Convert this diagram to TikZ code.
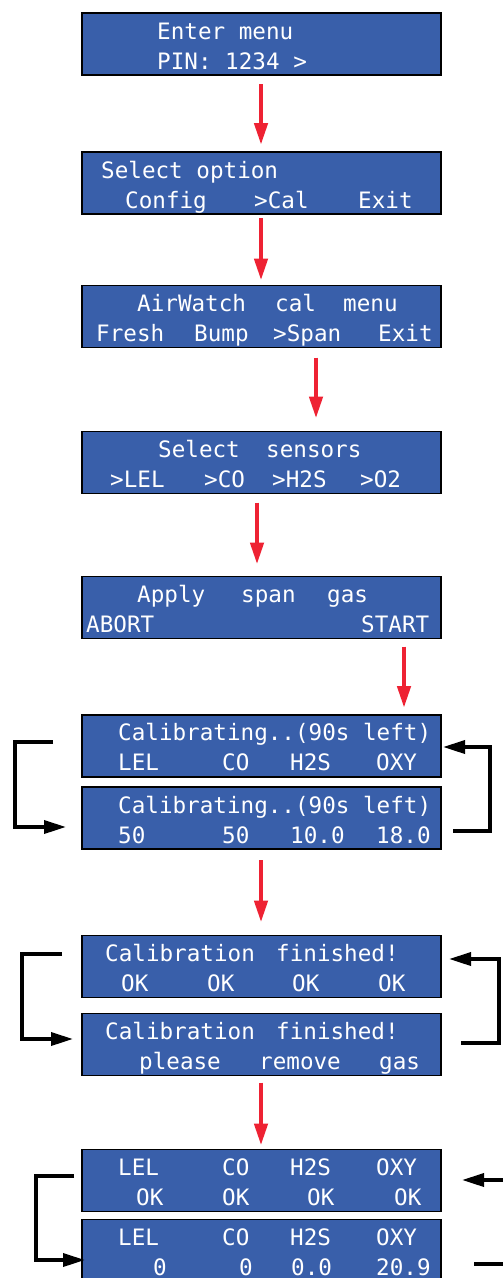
\documentclass[tikz,border=0pt]{standalone}
\usepackage{fontspec}
\newfontfamily\lcdfont{DejaVu Sans Mono}
\usetikzlibrary{arrows.meta}
\definecolor{lcdblue}{HTML}{395FAA}
\definecolor{arrred}{HTML}{EE2233}
\begin{document}
\begin{tikzpicture}[x=1pt,y=-1pt,
 lcdbox/.style={draw=black, line width=1.6pt, fill=lcdblue, minimum width=359pt, minimum height=62pt, inner sep=0pt, outer sep=0pt},
 lcdtext/.style={anchor=base west, inner sep=0pt, text=white, font=\lcdfont\fontsize{22.6}{24}\selectfont},
 redarr/.style={draw=arrred, line width=4.5pt, -{Triangle[length=22pt,width=13pt]}},
 looparr/.style={draw=black, line width=3.5pt, -{Triangle[length=22pt,width=13pt]}},
 loopline/.style={draw=black, line width=3.5pt}
]
\useasboundingbox (0,0) rectangle (503,1278);

% boxes
\node[lcdbox] (b1) at (261.5,44) {};
\node[lcdbox] (b2) at (261.5,183) {};
\node[lcdbox] (b3) at (261.5,316.5) {};
\node[lcdbox] (b4) at (261.5,462.5) {};
\node[lcdbox] (b5) at (261.5,607.5) {};
\node[lcdbox] (b6) at (261.5,746) {};
\node[lcdbox] (b7) at (261.5,818) {};
\node[lcdbox] (b8) at (261.5,966.5) {};
\node[lcdbox] (b9) at (261.5,1044.5) {};
\node[lcdbox] (b10) at (261.5,1180.5) {};
\node[lcdbox] (b11) at (261.5,1250.5) {};

% texts
\node[lcdtext] (t1a) at (157,39) {Enter menu};
\node[lcdtext] (t1b) at (157,69) {PIN: 1234 >};

\node[lcdtext] (t2a) at (101,178) {Select option};
\node[lcdtext] (t2b) at (125,208) {Config};
\node[lcdtext] (t2c) at (254,208) {>Cal};
\node[lcdtext] (t2d) at (358,208) {Exit};

\node[lcdtext] (t3a) at (137,311) {AirWatch};
\node[lcdtext] (t3b) at (275,311) {cal};
\node[lcdtext] (t3c) at (343,311) {menu};
\node[lcdtext] (t3d) at (96,341) {Fresh};
\node[lcdtext] (t3e) at (194,341) {Bump};
\node[lcdtext] (t3f) at (273,341) {>Span};
\node[lcdtext] (t3g) at (378,341) {Exit};

\node[lcdtext] (t4a) at (158,457) {Select};
\node[lcdtext] (t4b) at (266,457) {sensors};
\node[lcdtext] (t4c) at (110,487) {>LEL};
\node[lcdtext] (t4d) at (204,487) {>CO};
\node[lcdtext] (t4e) at (272,487) {>H2S};
\node[lcdtext] (t4f) at (360,487) {>O2};

\node[lcdtext] (t5a) at (137,602) {Apply};
\node[lcdtext] (t5b) at (241,602) {span};
\node[lcdtext] (t5c) at (327,602) {gas};
\node[lcdtext] (t5d) at (86,632) {ABORT};
\node[lcdtext] (t5e) at (361,632) {START};

\node[lcdtext] (t6a) at (118,740) {Calibrating..(90s left)};
\node[lcdtext] (t6b) at (118,770) {LEL};
\node[lcdtext] (t6c) at (222,770) {CO};
\node[lcdtext] (t6d) at (290,770) {H2S};
\node[lcdtext] (t6e) at (376,770) {OXY};

\node[lcdtext] (t7a) at (118,813) {Calibrating..(90s left)};
\node[lcdtext] (t7b) at (118,843) {50};
\node[lcdtext] (t7c) at (222,843) {50};
\node[lcdtext] (t7d) at (290,843) {10.0};
\node[lcdtext] (t7e) at (376,843) {18.0};

\node[lcdtext] (t8a) at (105,961) {Calibration};
\node[lcdtext] (t8b) at (276,961) {finished!};
\node[lcdtext] (t8c) at (121,991) {OK};
\node[lcdtext] (t8d) at (207,991) {OK};
\node[lcdtext] (t8e) at (292,991) {OK};
\node[lcdtext] (t8f) at (378,991) {OK};

\node[lcdtext] (t9a) at (105,1039) {Calibration};
\node[lcdtext] (t9b) at (276,1039) {finished!};
\node[lcdtext] (t9c) at (139,1069) {please};
\node[lcdtext] (t9d) at (259,1069) {remove};
\node[lcdtext] (t9e) at (379,1069) {gas};

\node[lcdtext] (t10a) at (118,1175) {LEL};
\node[lcdtext] (t10b) at (222,1175) {CO};
\node[lcdtext] (t10c) at (290,1175) {H2S};
\node[lcdtext] (t10d) at (376,1175) {OXY};
\node[lcdtext] (t10e) at (136,1205) {OK};
\node[lcdtext] (t10f) at (222,1205) {OK};
\node[lcdtext] (t10g) at (307,1205) {OK};
\node[lcdtext] (t10h) at (394,1205) {OK};

\node[lcdtext] (t11a) at (118,1245) {LEL};
\node[lcdtext] (t11b) at (222,1245) {CO};
\node[lcdtext] (t11c) at (290,1245) {H2S};
\node[lcdtext] (t11d) at (376,1245) {OXY};
\node[lcdtext] (t11e) at (153,1275) {0};
\node[lcdtext] (t11f) at (239,1275) {0};
\node[lcdtext] (t11g) at (291,1275) {0.0};
\node[lcdtext] (t11h) at (376,1275) {20.9};

% red arrows
\draw[redarr, shorten <=9pt, shorten >=7pt] ([xshift=-0.5pt]b1.south) -- ([xshift=-0.5pt]b2.north);
\draw[redarr, shorten <=4pt, shorten >=5pt] ([xshift=-0.5pt]b2.south) -- ([xshift=-0.5pt]b3.north);
\draw[redarr, shorten <=10pt, shorten >=13pt] ([xshift=54.5pt]b3.south) -- ([xshift=54.5pt]b4.north);
\draw[redarr, shorten <=9pt, shorten >=12pt] ([xshift=-4.5pt]b4.south) -- ([xshift=-4.5pt]b5.north);
\draw[redarr, shorten <=8pt, shorten >=7pt] ([xshift=142.5pt]b5.south) -- ([xshift=142.5pt]b6.north);
\draw[redarr, shorten <=11pt, shorten >=13pt] ([xshift=-0.5pt]b7.south) -- ([xshift=-0.5pt]b8.north);
\draw[redarr, shorten <=7pt, shorten >=4pt] ([xshift=-0.5pt]b9.south) -- ([xshift=-0.5pt]b10.north);

% loop coordinates
\coordinate (l6s) at (53,742);
\coordinate (l6e) at (66,827);
\coordinate (r6s) at (453,831);
\coordinate (r6e) at (443,747);
\coordinate (l8s) at (62,954);
\coordinate (l8e) at (73,1039);
\coordinate (r8s) at (461,1043);
\coordinate (r8e) at (449,959);
\coordinate (l10s) at (74,1176);
\coordinate (l10e) at (85,1260);
\coordinate (r10s) at (507,1180);
\coordinate (r10e) at (462,1180);
\coordinate (r11s) at (474,1264);
\coordinate (r11e) at (507,1264);

% black loops
\draw[looparr] (l6s) -- (15,742) -- (15,827) -- (l6e);
\draw[looparr] (r6s) -- (490,831) -- (490,747) -- (r6e);
\draw[looparr] (l8s) -- (22,954) -- (22,1039) -- (l8e);
\draw[looparr] (r8s) -- (499,1043) -- (499,959) -- (r8e);
\draw[looparr] (l10s) -- (36,1176) -- (36,1260) -- (l10e);
\draw[looparr] (r10s) -- (r10e);
\draw[loopline] (r11s) -- (r11e);
\end{tikzpicture}
\end{document}
